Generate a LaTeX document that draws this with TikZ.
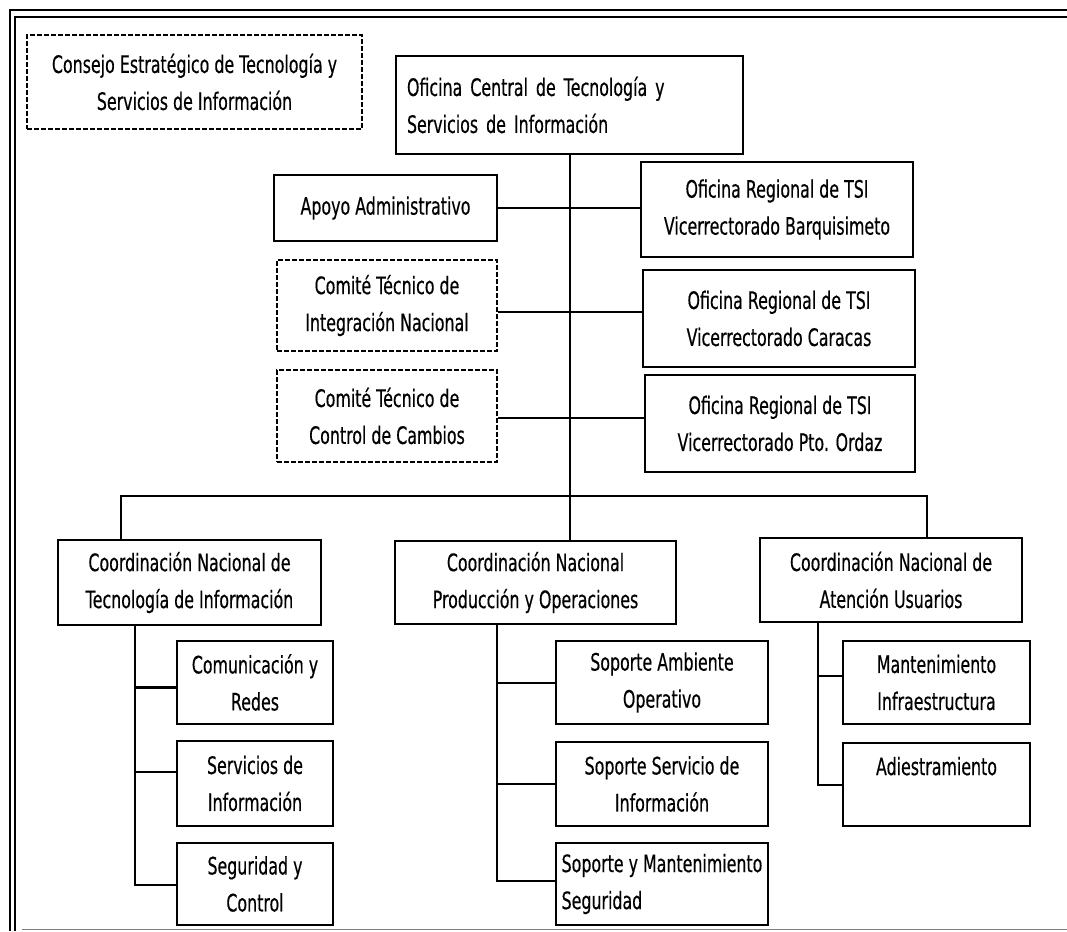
\documentclass[tikz,border=0pt]{standalone}
\usepackage{fontspec}
\setmainfont{DejaVu Sans}[FakeStretch=0.66,FakeBold=0.4]

\begin{document}
\begin{tikzpicture}[x=1pt,y=-1pt,
		caja/.style={draw,line width=1.9pt,align=center,inner sep=0pt,font=\fontsize{24}{37}\selectfont},
		comite/.style={caja,line width=1.5pt,dash pattern=on 5pt off 2pt},
		linea/.style={line width=2pt}]
	\useasboundingbox (0,0) rectangle (1067,931);
	\draw[line width=2.2pt] (10,931) -- (10,10) -- (1067,10);
	\draw[line width=1.8pt] (15,931) -- (15,17) -- (1067,17);
	\draw[gray,line width=1pt] (22,929) -- (1067,929);

	\node[comite,minimum width=335pt,minimum height=94pt] (consejo) at (194.5,82) {Consejo Estratégico de Tecnología y\\Servicios de Información};
	\node[caja,minimum width=347pt,minimum height=98pt,text width=325pt,align=left] (central) at (569.5,105) {Oficina Central de Tecnología y\\Servicios de Información};

	\node[caja,minimum width=223pt,minimum height=66pt] (apoyo) at (385.5,208) {Apoyo Administrativo};
	\node[comite,minimum width=220pt,minimum height=91pt] (integracion) at (387,305.5) {Comité Técnico de\\Integración Nacional};
	\node[comite,minimum width=220pt,minimum height=92pt] (cambios) at (387,416) {Comité Técnico de\\Control de Cambios};
	\node[caja,minimum width=272pt,minimum height=95pt] (barquisimeto) at (777,209.5) {Oficina Regional de TSI\\Vicerrectorado Barquisimeto};
	\node[caja,minimum width=272pt,minimum height=97pt] (caracas) at (779,318.5) {Oficina Regional de TSI\\Vicerrectorado Caracas};
	\node[caja,minimum width=270pt,minimum height=97pt] (ordaz) at (780,423.5) {Oficina Regional de TSI\\Vicerrectorado Pto. Ordaz};

	\node[caja,minimum width=263pt,minimum height=85pt] (cti) at (189.5,582.5) {Coordinación Nacional de\\Tecnología de Información};
	\node[caja,minimum width=281pt,minimum height=83pt] (cprod) at (535.5,582.5) {Coordinación Nacional\\Producción y Operaciones};
	\node[caja,minimum width=262pt,minimum height=84pt] (caten) at (891,580) {Coordinación Nacional de\\Atención Usuarios};

	\node[caja,minimum width=156pt,minimum height=83pt] (redes) at (255,682.5) {Comunicación y\\Redes};
	\node[caja,minimum width=156pt,minimum height=85pt] (servinf) at (255,783.5) {Servicios de\\Información};
	\node[caja,minimum width=156pt,minimum height=82pt] (segctl) at (255,884) {Seguridad y\\Control};
	\node[caja,minimum width=212pt,minimum height=83pt] (ambiente) at (662,682.5) {Soporte Ambiente\\Operativo};
	\node[caja,minimum width=212pt,minimum height=84pt] (servicio) at (662,784) {Soporte Servicio de\\Información};
	\node[caja,minimum width=212pt,minimum height=82pt,align=left] (mantseg) at (662,884) {Soporte y Mantenimiento\\Seguridad};
	\node[caja,minimum width=187pt,minimum height=83pt] (infra) at (936.5,682.5) {Mantenimiento\\Infraestructura};
	\node[caja,minimum width=187pt,minimum height=83pt] (adiestra) at (936.5,784.5) {Adiestramiento\\\mbox{}};

	\coordinate (busL) at (121,496);
	\coordinate (busR) at (927,496);
	\coordinate (tiTronco) at (135,625);
	\coordinate (prodTronco) at (497,624);
	\coordinate (atenTronco) at (818,622);

	\draw[linea] (central.south) -- (central.south |- cprod.north);
	\draw[linea] (apoyo.east) -- (apoyo.east -| barquisimeto.west);
	\draw[linea] ([yshift=-6pt]integracion.east) -- ([yshift=-6pt]integracion.east -| caracas.west);
	\draw[linea,line width=2.8pt] ([yshift=-2pt]cambios.east) -- ([yshift=-2pt]cambios.east -| ordaz.west);
	\draw[linea] (busL |- cti.north) -- (busL) -- (busR) -- (busR |- caten.north);

	\draw[linea] (tiTronco) |- ([yshift=-1pt]segctl.west);
	\draw[linea,line width=2.6pt] ([yshift=-5pt]tiTronco |- redes.west) -- ([yshift=-5pt]redes.west);
	\draw[linea] ([yshift=12pt]tiTronco |- servinf.west) -- ([yshift=12pt]servinf.west);
	\draw[linea] (prodTronco) |- ([yshift=3pt]mantseg.west);
	\draw[linea] (prodTronco |- ambiente.west) -- (ambiente.west);
	\draw[linea] (prodTronco |- servicio.west) -- (servicio.west);
	\draw[linea] (atenTronco) |- (adiestra.west);
	\draw[linea] ([yshift=7pt]atenTronco |- infra.west) -- ([yshift=7pt]infra.west);
\end{tikzpicture}
\end{document}
